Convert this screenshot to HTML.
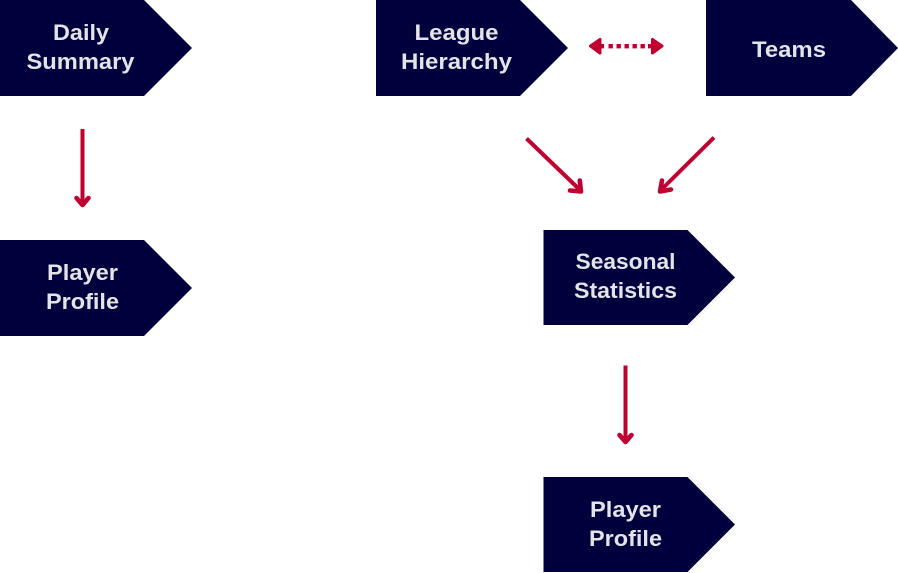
<!DOCTYPE html>
<html>
<head>
<meta charset="utf-8">
<style>
html,body{margin:0;padding:0;background:#fff;width:898px;height:573px;overflow:hidden}
svg{display:block}
text{font-family:"Liberation Sans",sans-serif;font-weight:700;font-size:22px;fill:#e3e3e8;text-anchor:middle}
.a{stroke:#c00030;stroke-width:4;fill:none}
.h{stroke:#c00030;stroke-width:4.6;fill:none;stroke-linecap:round;stroke-linejoin:round}
</style>
</head>
<body>
<svg width="898" height="573" viewBox="0 0 898 573" xmlns="http://www.w3.org/2000/svg">
<g fill="#00003c">
<polygon points="0,0 144,0 192,48 144,96 0,96"/>
<polygon points="0,240 144,240 192,288 144,336 0,336"/>
<polygon points="376,0 520,0 568,48 520,96 376,96"/>
<polygon points="706,0 851,0 898,48 851,96 706,96"/>
<polygon points="543.500,230 687.500,230 735,277.500 687.500,325 543.500,325"/>
<polygon points="543.500,477 687.500,477 735,524.500 687.500,572 543.500,572"/>
</g>
<text x="81" y="40" textLength="56" lengthAdjust="spacingAndGlyphs">Daily</text>
<text x="80.500" y="69" textLength="108" lengthAdjust="spacingAndGlyphs">Summary</text>
<text x="82.500" y="280" textLength="71" lengthAdjust="spacingAndGlyphs">Player</text>
<text x="82.500" y="309" textLength="73" lengthAdjust="spacingAndGlyphs">Profile</text>
<text x="456.500" y="40" textLength="84" lengthAdjust="spacingAndGlyphs">League</text>
<text x="456.500" y="69" textLength="111" lengthAdjust="spacingAndGlyphs">Hierarchy</text>
<text x="789" y="57" textLength="74" lengthAdjust="spacingAndGlyphs">Teams</text>
<text x="625.500" y="269" textLength="100" lengthAdjust="spacingAndGlyphs">Seasonal</text>
<text x="625.500" y="298" textLength="103" lengthAdjust="spacingAndGlyphs">Statistics</text>
<text x="625.500" y="517" textLength="71" lengthAdjust="spacingAndGlyphs">Player</text>
<text x="625.500" y="546" textLength="73" lengthAdjust="spacingAndGlyphs">Profile</text>

<line class="a" x1="82.500" y1="129" x2="82.500" y2="205"/>
<polyline class="h" points="76.500,198 82.500,205 88.500,198"/>

<line class="a" x1="625.500" y1="365.500" x2="625.500" y2="442"/>
<polyline class="h" points="619.500,435 625.500,442 631.500,435"/>

<line class="a" x1="526.500" y1="138.500" x2="580" y2="190"/>
<polyline class="h" points="570,190.500 581,191.500 579.800,180.500"/>

<line class="a" x1="714" y1="137.500" x2="661" y2="190"/>
<polyline class="h" points="671,189.500 660,191.500 662,180.500"/>

<rect x="600" y="44" width="4" height="4.400" fill="#c00030"/>
<rect x="608.500" y="44" width="4.400" height="4.400" fill="#c00030"/>
<rect x="616.500" y="44" width="4.400" height="4.400" fill="#c00030"/>
<rect x="624.500" y="44" width="4.400" height="4.400" fill="#c00030"/>
<rect x="632.500" y="44" width="4.400" height="4.400" fill="#c00030"/>
<rect x="640.500" y="44" width="4.400" height="4.400" fill="#c00030"/>
<rect x="648" y="44" width="4" height="4.400" fill="#c00030"/>
<polygon points="590.500,46 600,39.500 600,53" fill="#c00030" stroke="#c00030" stroke-width="3" stroke-linejoin="round"/>
<polygon points="662,46 652.500,39.500 652.500,53" fill="#c00030" stroke="#c00030" stroke-width="3" stroke-linejoin="round"/>
</svg>
</body>
</html>
